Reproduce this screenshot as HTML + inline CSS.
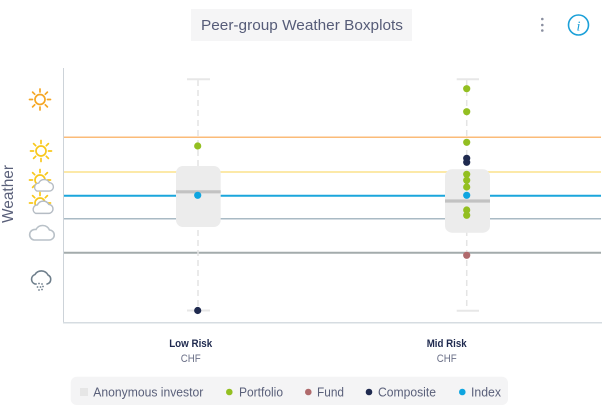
<!DOCTYPE html>
<html>
<head>
<meta charset="utf-8">
<style>
  html,body{margin:0;padding:0;background:#fff;}
  body{width:610px;height:410px;overflow:hidden;}
  svg{display:block;font-family:"Liberation Sans",sans-serif;}
</style>
</head>
<body>
<svg width="610" height="410" viewBox="0 0 610 410" xmlns="http://www.w3.org/2000/svg">
  <!-- Title -->
  <rect x="191" y="9" width="221" height="32" fill="#f5f5f6"/>
  <text x="201" y="30" font-size="15" fill="#565c78" textLength="202" lengthAdjust="spacingAndGlyphs">Peer-group Weather Boxplots</text>
  <!-- kebab -->
  <circle cx="542.3" cy="19" r="1.3" fill="#8a8fa0"/>
  <circle cx="542.3" cy="25" r="1.3" fill="#8a8fa0"/>
  <circle cx="542.3" cy="30.5" r="1.3" fill="#8a8fa0"/>
  <!-- info -->
  <circle cx="578.5" cy="25" r="10" fill="none" stroke="#1ba0d8" stroke-width="1.6"/>
  <text x="578.5" y="30.5" font-size="14" font-style="italic" fill="#1ba0d8" text-anchor="middle" font-family="Liberation Serif, serif">i</text>

  <!-- Y label -->
  <text transform="translate(13,194) rotate(-90)" font-size="16" fill="#5a607a" text-anchor="middle" textLength="58" lengthAdjust="spacingAndGlyphs">Weather</text>

  <!-- axes -->
  <line x1="63.5" y1="68" x2="63.5" y2="323" stroke="#cdd3d9" stroke-width="1"/>
  <line x1="63" y1="322.7" x2="602" y2="322.7" stroke="#d6dce1" stroke-width="1.5"/>

  <!-- threshold lines -->
  <line x1="64" y1="137.3" x2="601" y2="137.3" stroke="#fbbb78" stroke-width="1.5"/>
  <line x1="64" y1="172" x2="601" y2="172" stroke="#fce69c" stroke-width="1.8"/>
  <line x1="64" y1="195.7" x2="601" y2="195.7" stroke="#1aa6dc" stroke-width="2"/>
  <line x1="64" y1="218.7" x2="601" y2="218.7" stroke="#a9bac4" stroke-width="1.5"/>
  <line x1="64" y1="252.7" x2="601" y2="252.7" stroke="#a3abac" stroke-width="2"/>

  <!-- weather icons -->
  <g stroke-linecap="round" fill="none">
    <!-- sun orange -->
    <g transform="translate(40,99.5)" stroke="#f5a623" stroke-width="1.7">
      <circle r="5"/>
      <line x1="0" y1="-7.5" x2="0" y2="-10.5"/><line x1="0" y1="7.5" x2="0" y2="10.5"/>
      <line x1="-7.5" y1="0" x2="-10.5" y2="0"/><line x1="7.5" y1="0" x2="10.5" y2="0"/>
      <line x1="5.3" y1="5.3" x2="7.4" y2="7.4"/><line x1="-5.3" y1="-5.3" x2="-7.4" y2="-7.4"/>
      <line x1="5.3" y1="-5.3" x2="7.4" y2="-7.4"/><line x1="-5.3" y1="5.3" x2="-7.4" y2="7.4"/>
    </g>
    <!-- sun yellow -->
    <g transform="translate(41,151)" stroke="#f8c81c" stroke-width="1.7">
      <circle r="5"/>
      <line x1="0" y1="-7.5" x2="0" y2="-10.5"/><line x1="0" y1="7.5" x2="0" y2="10.5"/>
      <line x1="-7.5" y1="0" x2="-10.5" y2="0"/><line x1="7.5" y1="0" x2="10.5" y2="0"/>
      <line x1="5.3" y1="5.3" x2="7.4" y2="7.4"/><line x1="-5.3" y1="-5.3" x2="-7.4" y2="-7.4"/>
      <line x1="5.3" y1="-5.3" x2="7.4" y2="-7.4"/><line x1="-5.3" y1="5.3" x2="-7.4" y2="7.4"/>
    </g>
    <!-- sun + cloud 1 -->
    <g transform="translate(40,180)" stroke="#f8c81c" stroke-width="1.7">
      <circle r="5"/>
      <line x1="0" y1="-7.5" x2="0" y2="-10.5"/><line x1="0" y1="7.5" x2="0" y2="10.5"/>
      <line x1="-7.5" y1="0" x2="-10.5" y2="0"/><line x1="7.5" y1="0" x2="10.5" y2="0"/>
      <line x1="5.3" y1="5.3" x2="7.4" y2="7.4"/><line x1="-5.3" y1="-5.3" x2="-7.4" y2="-7.4"/>
      <line x1="5.3" y1="-5.3" x2="7.4" y2="-7.4"/><line x1="-5.3" y1="5.3" x2="-7.4" y2="7.4"/>
    </g>
    <path transform="translate(43,186) scale(0.85)" d="M-7,6 H7 A5,5 0 0 0 7.5,-4 A7,7 0 0 0 -5,-3.5 A5,5 0 0 0 -7,6 Z" fill="#fff" stroke="#b5bcc4" stroke-width="1.6"/>
    <!-- sun + cloud 2 -->
    <g transform="translate(40,203)" stroke="#f8c81c" stroke-width="1.7">
      <circle r="5"/>
      <line x1="0" y1="-7.5" x2="0" y2="-10.5"/>
      <line x1="-7.5" y1="0" x2="-10.5" y2="0"/><line x1="7.5" y1="0" x2="10.5" y2="0"/>
      <line x1="-5.3" y1="-5.3" x2="-7.4" y2="-7.4"/>
      <line x1="5.3" y1="-5.3" x2="7.4" y2="-7.4"/>
    </g>
    <path transform="translate(42,208) scale(0.9)" d="M-7,6 H7 A5,5 0 0 0 7.5,-4 A7,7 0 0 0 -5,-3.5 A5,5 0 0 0 -7,6 Z" fill="#fff" stroke="#b5bcc4" stroke-width="1.6"/>
    <!-- cloud -->
    <path transform="translate(41,233)" d="M-7,7 H8 A5,5 0 0 0 8.5,-3 A7.5,7.5 0 0 0 -5,-3.5 A5.3,5.3 0 0 0 -7,7 Z" stroke="#b9c1c8" stroke-width="1.6"/>
    <!-- rain cloud -->
    <path transform="translate(40,278)" d="M-5,6 A5,5 0 0 1 -5,-3.5 A7.5,7.5 0 0 1 8,-3 A4.8,4.8 0 0 1 7,6" stroke="#6f7f8c" stroke-width="1.6"/>
  </g>
  <g fill="#6f7f8c">
    <circle cx="36" cy="284" r="0.9"/><circle cx="39" cy="283.5" r="0.9"/><circle cx="42" cy="284" r="0.9"/>
    <circle cx="37.5" cy="287" r="0.9"/><circle cx="40.5" cy="287" r="0.9"/><circle cx="43" cy="286.5" r="0.9"/>
    <circle cx="39" cy="290" r="0.9"/><circle cx="42" cy="289.5" r="0.9"/>
  </g>

  <!-- Box 1: Low Risk -->
  <line x1="198" y1="80" x2="198" y2="310" stroke="#e4e4e4" stroke-width="1.5" stroke-dasharray="6 4"/>
  <line x1="187" y1="79.3" x2="210" y2="79.3" stroke="#e7e7e7" stroke-width="2"/>
  <line x1="187" y1="310.5" x2="210" y2="310.5" stroke="#e7e7e7" stroke-width="2"/>
  <rect x="176" y="166" width="44.7" height="61" rx="7" fill="#ececec"/>
  <line x1="176" y1="191.8" x2="220.7" y2="191.8" stroke="#c2c2c2" stroke-width="3.2"/>
  <circle cx="197.7" cy="146" r="3.6" fill="#93bf21"/>
  <circle cx="197.7" cy="195.3" r="3.6" fill="#0ea5e0"/>
  <circle cx="197.7" cy="310.5" r="3.6" fill="#1f2a4f"/>

  <!-- Box 2: Mid Risk -->
  <line x1="466.7" y1="80" x2="466.7" y2="310" stroke="#e4e4e4" stroke-width="1.5" stroke-dasharray="6 4"/>
  <line x1="456.7" y1="79.2" x2="479" y2="79.2" stroke="#e7e7e7" stroke-width="2"/>
  <line x1="456.7" y1="310.7" x2="479" y2="310.7" stroke="#e7e7e7" stroke-width="2"/>
  <rect x="445" y="169.3" width="45" height="63.4" rx="7" fill="#ececec"/>
  <line x1="445" y1="201" x2="490" y2="201" stroke="#c2c2c2" stroke-width="3.2"/>
  <g fill="#93bf21">
    <circle cx="466.7" cy="88.7" r="3.6"/>
    <circle cx="466.7" cy="111.7" r="3.6"/>
    <circle cx="466.7" cy="142.3" r="3.6"/>
    <circle cx="466.7" cy="174.3" r="3.6"/>
    <circle cx="466.7" cy="180.3" r="3.6"/>
    <circle cx="466.7" cy="187" r="3.6"/>
    <circle cx="466.7" cy="210" r="3.6"/>
    <circle cx="466.7" cy="215.3" r="3.6"/>
  </g>
  <circle cx="466.7" cy="158.3" r="3.6" fill="#1f2a4f"/>
  <circle cx="466.7" cy="162.3" r="3.6" fill="#1f2a4f"/>
  <circle cx="466.7" cy="195.3" r="3.6" fill="#0ea5e0"/>
  <circle cx="466.7" cy="255.3" r="3.6" fill="#b06a6c"/>

  <!-- X labels -->
  <text x="190.7" y="347" font-size="11" font-weight="bold" fill="#1f2a4f" text-anchor="middle" textLength="43" lengthAdjust="spacingAndGlyphs">Low Risk</text>
  <text x="190.7" y="362" font-size="11" fill="#6b7088" text-anchor="middle" textLength="20" lengthAdjust="spacingAndGlyphs">CHF</text>
  <text x="446.7" y="347" font-size="11" font-weight="bold" fill="#1f2a4f" text-anchor="middle" textLength="40" lengthAdjust="spacingAndGlyphs">Mid Risk</text>
  <text x="446.7" y="362" font-size="11" fill="#6b7088" text-anchor="middle" textLength="20" lengthAdjust="spacingAndGlyphs">CHF</text>

  <!-- Legend -->
  <rect x="70.7" y="376.7" width="437.3" height="28.3" rx="6" fill="#f4f4f5"/>
  <rect x="80" y="388" width="8" height="8" fill="#e6e6e6"/>
  <text x="93.3" y="396.5" font-size="13" fill="#5a607a" textLength="110" lengthAdjust="spacingAndGlyphs">Anonymous investor</text>
  <circle cx="229.3" cy="392" r="3.3" fill="#93bf21"/>
  <text x="239" y="396.5" font-size="13" fill="#5a607a" textLength="44" lengthAdjust="spacingAndGlyphs">Portfolio</text>
  <circle cx="308.3" cy="392" r="3.3" fill="#b06a6c"/>
  <text x="317" y="396.5" font-size="13" fill="#5a607a" textLength="27" lengthAdjust="spacingAndGlyphs">Fund</text>
  <circle cx="369" cy="392" r="3.3" fill="#1f2a4f"/>
  <text x="378" y="396.5" font-size="13" fill="#5a607a" textLength="58" lengthAdjust="spacingAndGlyphs">Composite</text>
  <circle cx="462.3" cy="392" r="3.3" fill="#0ea5e0"/>
  <text x="471" y="396.5" font-size="13" fill="#5a607a" textLength="30" lengthAdjust="spacingAndGlyphs">Index</text>
</svg>
</body>
</html>
